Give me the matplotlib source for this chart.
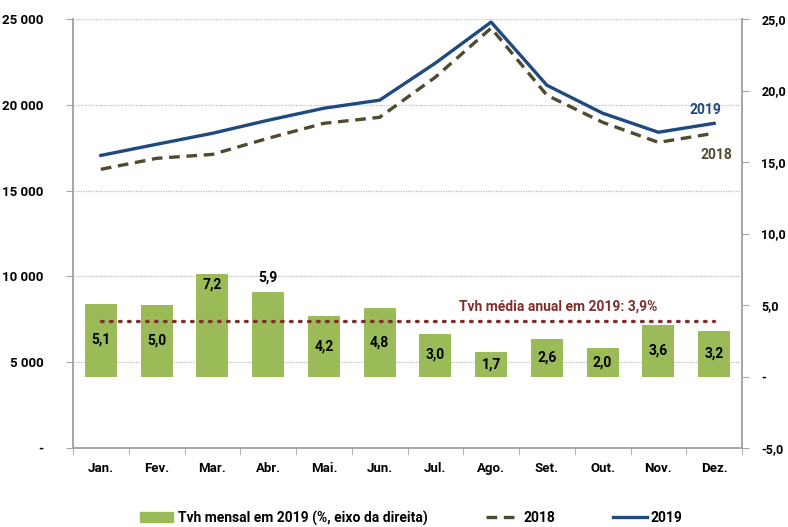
import matplotlib
matplotlib.use("Agg")
import matplotlib.pyplot as plt
from matplotlib.patches import Patch
from matplotlib.lines import Line2D
from matplotlib.ticker import FixedLocator, FuncFormatter
from matplotlib.transforms import blended_transform_factory

plt.rcParams["font.family"] = ["Roboto", "DejaVu Sans"]
plt.rcParams["font.weight"] = "bold"

months = ["Jan.", "Fev.", "Mar.", "Abr.", "Mai.", "Jun.",
          "Jul.", "Ago.", "Set.", "Out.", "Nov.", "Dez."]
v2018 = [16240, 16880, 17110, 18050, 18920, 19270,
         21610, 24470, 20560, 18980, 17810, 18340]
v2019 = [17050, 17700, 18340, 19100, 19800, 20270,
         22430, 24820, 21140, 19510, 18400, 18920]
tvh = [5.1, 5.0, 7.2, 5.9, 4.2, 4.8, 3.0, 1.7, 2.6, 2.0, 3.6, 3.2]
tvh_avg = 3.9
left_ticks = [0, 5000, 10000, 15000, 20000, 25000]
right_ticks = [-5, 0, 5, 10, 15, 20, 25]

GREEN = "#9BBB59"
BLUE = "#1F4A7F"
OLIVE = "#4F4A30"
RED = "#7F2E2E"
GRAY = "#A6A6A6"
FS = 9.5


def pt(v):
    return f"{v:.1f}".replace(".", ",")


fig = plt.figure(figsize=(7.88, 5.27), dpi=100)
ax = fig.add_axes([73 / 788, 1 - 448 / 527, 669 / 788, 429 / 527])
ax2 = ax.twinx()

x = list(range(len(months)))
ax.set_xlim(-0.5, 11.5)
ax.set_ylim(0, 25000)
ax2.set_ylim(-5, 25)

# gridlines of the left axis, drawn behind the bars
gtrans = blended_transform_factory(ax2.transAxes, ax.transData)
for g in left_ticks[1:]:
    ax2.plot([0, 1], [g, g], transform=gtrans, color="#BFBFBF",
             linestyle=(0, (1, 1)), linewidth=0.9, zorder=0.5)

# bars on the right axis
ax2.bar(x, tvh, width=0.57, color=GREEN, zorder=2)
ax2.plot([x[0], x[-1]], [tvh_avg, tvh_avg], color=RED, lw=2.4,
         linestyle=(0, (0.5, 2.2)), dash_capstyle="round", zorder=3)
ax2.text(8.2, tvh_avg + 1.0, f"Tvh média anual em 2019: {pt(tvh_avg)}%",
         color=RED, fontsize=FS + 0.5, fontweight="bold", ha="center", va="center")
for i, v in enumerate(tvh):
    if months[i] == "Mar.":
        y = v - 0.8
    elif months[i] == "Abr.":
        y = v + 1.0
    else:
        y = v / 2
    ax2.text(i, y, pt(v), ha="center", va="center",
             fontsize=FS + 0.5, fontweight="bold", color="black", zorder=4)

# lines on the left axis
ax.plot(x, v2018, color=OLIVE, lw=2.4, linestyle=(0, (3.2, 2.0)), zorder=3)
ax.plot(x, v2019, color=BLUE, lw=2.4, zorder=4)
ax.text(10.84, 19680, "2019", color=BLUE, fontsize=FS + 0.5, fontweight="bold",
        ha="center", va="center")
ax.text(11.05, 17050, "2018", color=OLIVE, fontsize=FS + 0.5, fontweight="bold",
        ha="center", va="center")

# put lines above bars
ax.set_zorder(ax2.get_zorder() + 1)
ax.patch.set_visible(False)

ax.yaxis.set_major_locator(FixedLocator(left_ticks))
ax.yaxis.set_major_formatter(FuncFormatter(
    lambda v, p: "-" if v == 0 else f"{int(v):,}".replace(",", " ")))
ax2.yaxis.set_major_locator(FixedLocator(right_ticks))
ax2.yaxis.set_major_formatter(FuncFormatter(
    lambda v, p: "-" if v == 0 else pt(v)))

ax.set_xticks(x)
ax.set_xticklabels(months)
ax.set_xticks([i - 0.5 for i in range(13)], minor=True)
ax.tick_params(axis="x", which="major", length=0, pad=10, labelsize=FS)
ax.tick_params(axis="x", which="minor", length=5, color=GRAY)
ax.tick_params(axis="y", length=5, color=GRAY, pad=16, labelsize=FS)
ax2.tick_params(axis="y", length=5, color=GRAY, pad=9, labelsize=FS - 0.5)

for a in (ax, ax2):
    a.spines["top"].set_visible(False)
    for s in ("left", "right", "bottom"):
        a.spines[s].set_color(GRAY)
        a.spines[s].set_linewidth(1.2)

handles = [Patch(facecolor=GREEN, edgecolor=GREEN),
           Line2D([], [], color=OLIVE, lw=2.4, linestyle=(0, (3.2, 2.0))),
           Line2D([], [], color=BLUE, lw=2.4)]
labels = ["Tvh mensal em 2019 (%, eixo da direita)", "2018", "2019"]
fig.legend(handles, labels, loc="center", bbox_to_anchor=(0.522, 9 / 527),
           ncol=3, frameon=False, fontsize=FS + 0.5, handlelength=2.4,
           handletextpad=0.3, columnspacing=4.2)

fig.savefig("out.png", dpi=100)
